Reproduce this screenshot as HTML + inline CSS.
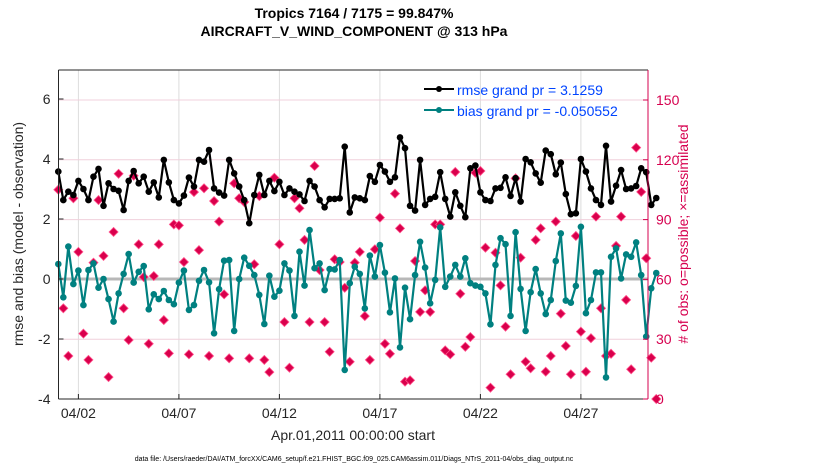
<!DOCTYPE html>
<html><head><meta charset="utf-8">
<style>
html,body{margin:0;padding:0;background:#fff;}
svg{display:block;font-family:"Liberation Sans",Arial,sans-serif;}
</style></head>
<body>
<svg id="chart" width="830" height="470" viewBox="0 0 830 470">
  <rect x="0" y="0" width="830" height="470" fill="#fff"/>
  <text x="354" y="18" text-anchor="middle" font-size="14" font-weight="bold">Tropics 7164 / 7175 = 99.847%</text>
  <text x="354" y="36" text-anchor="middle" font-size="14" font-weight="bold">AIRCRAFT_V_WIND_COMPONENT @ 313 hPa</text>
  <g id="grid"></g>
  <g id="marks"></g>
  <g id="axes"></g>
  <text transform="translate(23,234) rotate(-90)" text-anchor="middle" font-size="14" fill="#262626">rmse and bias (model - observation)</text>
  <text transform="translate(688,234) rotate(-90)" text-anchor="middle" font-size="14" fill="#d6004f"># of obs: o=possible; ×=assimilated</text>
  <text x="353" y="440" text-anchor="middle" font-size="14" fill="#262626">Apr.01,2011 00:00:00 start</text>
  <text x="354" y="461" text-anchor="middle" font-size="7" fill="#000">data file: /Users/raeder/DAI/ATM_forcXX/CAM6_setup/f.e21.FHIST_BGC.f09_025.CAM6assim.011/Diags_NTrS_2011-04/obs_diag_output.nc</text>
  <g>
    <line x1="424" y1="89" x2="454" y2="89" stroke="#000" stroke-width="2"/>
    <circle cx="439" cy="89" r="3" fill="#000"/>
    <text x="457" y="95" font-size="14" fill="#0044ff">rmse grand pr = 3.1259</text>
    <line x1="424" y1="110" x2="454" y2="110" stroke="#008080" stroke-width="2"/>
    <circle cx="439" cy="110" r="3" fill="#008080"/>
    <text x="457" y="116" font-size="14" fill="#0044ff">bias grand pr = -0.050552</text>
  </g>
</svg>
<script>
const rmse = [3.58,2.63,2.91,2.8,3.27,3.0,2.63,3.41,3.67,2.44,3.19,3.0,2.94,2.3,3.27,3.6,3.19,3.41,2.91,3.22,2.72,3.97,3.22,2.63,2.52,2.78,3.38,3.08,3.97,3.91,
4.3,3.02,2.88,2.78,3.97,3.52,3.08,2.63,1.86,2.8,3.47,2.8,3.27,2.93,3.24,2.8,3.02,2.91,2.82,2.6,3.27,3.08,2.63,2.39,2.67,2.67,2.69,4.41,2.22,
2.72,2.69,2.63,3.43,3.24,3.8,3.58,3.24,3.39,4.72,4.36,2.44,2.28,3.97,2.47,2.67,2.74,3.56,2.67,2.08,2.89,2.44,2.06,3.69,3.78,2.89,2.63,2.6,3.02,
3.04,3.39,2.77,3.36,2.58,4.0,3.89,3.52,3.21,4.28,4.16,3.49,3.88,2.83,2.16,2.19,4.0,3.58,3.02,2.63,2.47,4.44,2.58,3.11,3.63,3.0,3.02,3.1,3.69,3.56,2.47,2.7];
const bias = [0.5,-0.61,1.08,-0.17,0.28,-0.87,0.3,0.52,-0.29,0,-0.67,-1.42,-0.48,0.17,0.83,-0.12,0.24,0.43,-1.01,-0.51,-0.67,-0.4,-0.7,-0.84,-0.12,0.28,-1.03,-0.87,-0.06,0.3,
-0.11,-1.81,-0.34,0.61,0.63,-1.73,0,0.71,0.44,0.13,-0.53,-1.5,0.11,-0.59,-0.39,0.52,0.28,-1.23,0.91,-0.22,1.63,0.36,0.52,-0.37,0.33,0.32,0.63,-3.03,-0.14,
0.41,0.17,-0.98,0.78,0.08,1.13,0.21,-1.11,0.02,-2.28,-0.29,-1.34,0.13,1.24,0.38,-0.81,-0.03,1.72,-0.26,0.08,0.47,0.08,0.69,-0.14,-0.22,-0.26,-0.48,-1.51,0.47,
1.36,1.16,-1.23,1.56,-0.33,-1.73,-0.44,0.33,-0.48,-1.17,-0.7,0.6,1.52,-0.72,-0.79,-0.23,1.74,-1.14,-0.7,0.22,0.22,-3.28,0.74,1.02,0.02,0.82,0.74,1.22,0.13,-1.92,-0.31,0.2];
const nobs = [105,45.5,21.6,100.7,73.8,32.8,19.6,68.4,99.8,71.8,11,83.8,113,45.5,29.6,112,77.6,61.2,27.7,61.7,77.6,39.6,22.9,87.6,87.1,68.7,22.4,103.8,74.7,105.7,
21.6,99.3,89,52.5,20.4,108.2,100.7,98.8,20.4,67.6,101.8,19.6,13.5,111,77.6,38.6,15.7,100.7,95.7,79.8,38.6,116.9,64.7,38.6,23.7,70.1,68.7,55.8,18.7,
68.4,73.8,41.6,19.6,75.1,91,27.7,22.7,103,85.6,8.7,9.4,69.2,43.7,54.5,43.7,87.6,87.6,24.4,22.4,113.9,52.8,26.2,31.1,113.5,114.4,75.9,5.7,73.4,
57,36.3,12.4,110.7,70.9,18.7,15.4,79.8,85.6,13.7,21.6,89,42.8,26.6,12.4,81.8,33.8,13.7,30.5,91.5,45.5,21.6,22.7,76.8,91.5,49.7,14.9,126.1,103.9,70.6,20.7,0];
const leftTicks = [-4,-2,0,2,4,6];
const rightTicks = [0,30,60,90,120,150];
const dayTicks = [1,6,11,16,21,26];
const dayLabels = ["04/02","04/07","04/12","04/17","04/22","04/27"];
const stepDays = 0.25;

const PX0=58.5, PX1=648, PY0=70, PY1=399;
const xS = d => 58.3 + d*20.1;
const yL = v => 279 - v*30;
const yR = n => 399 - n*(299/150);
const NS="http://www.w3.org/2000/svg";
function mk(parent, tag, attrs){const e=document.createElementNS(NS,tag);for(const k in attrs)e.setAttribute(k,attrs[k]);parent.appendChild(e);return e;}
const grid=document.getElementById('grid'), marks=document.getElementById('marks'), axes=document.getElementById('axes');

dayTicks.forEach(d=>{const l=mk(grid,'line',{x1:xS(d),x2:xS(d),y1:PY0,y2:PY1,stroke:'#dcdcdc','stroke-width':1});

});
rightTicks.forEach(n=>{if(n===0||n===60)return;const l=mk(grid,'line',{x1:PX0,x2:PX1,y1:yR(n),y2:yR(n),stroke:'#f0d0dc','stroke-width':1});

});
const z=mk(grid,'line',{x1:PX0,x2:PX1,y1:yL(0),y2:yL(0),stroke:'#b8b8b8','stroke-width':3});



// obs diamonds
nobs.forEach((n,i)=>{const x=xS(i*stepDays),y=yR(n);
const p=mk(marks,'path',{d:`M${x} ${y-4.5}L${x+4.5} ${y}L${x} ${y+4.5}L${x-4.5} ${y}Z`,fill:'#d9004c',stroke:'#ff4f8a','stroke-width':0.8});

});

function series(vals,color,name){
  const pts=vals.map((v,i)=>xS(i*stepDays).toFixed(1)+','+yL(v).toFixed(1)).join(' ');
  const pl=mk(marks,'polyline',{points:pts,fill:'none',stroke:color,'stroke-width':2.2,'stroke-linejoin':'round'});
  
  
  vals.forEach((v,i)=>{const c=mk(marks,'circle',{cx:xS(i*stepDays),cy:yL(v),r:3.3,fill:color});
  
  });
}
series(bias,'#008080','bias');
series(rmse,'#000000','rmse');

// axes frame
const la=mk(axes,'line',{x1:PX0,x2:PX0,y1:PY0,y2:PY1,stroke:'#262626','stroke-width':1});


const ba=mk(axes,'line',{x1:PX0,x2:PX1,y1:PY1,y2:PY1,stroke:'#262626','stroke-width':1});


const ta=mk(axes,'line',{x1:PX0,x2:PX1,y1:PY0,y2:PY0,stroke:'#262626','stroke-width':1});


const ra=mk(axes,'line',{x1:PX1,x2:PX1,y1:PY0,y2:PY1,stroke:'#d6004f','stroke-width':1});



leftTicks.forEach(v=>{const y=yL(v);
mk(axes,'line',{x1:PX0,x2:PX0+5,y1:y,y2:y,stroke:'#262626'});
const t=mk(axes,'text',{x:PX0-8,y:y+5,'text-anchor':'end','font-size':14,fill:'#262626'});t.textContent=v;

});
rightTicks.forEach(n=>{const y=yR(n);
mk(axes,'line',{x1:PX1-5,x2:PX1,y1:y,y2:y,stroke:'#d6004f'});
const t=mk(axes,'text',{x:PX1+8,y:y+5,'font-size':14,fill:'#d6004f'});t.textContent=n;

});
dayTicks.forEach((d,i)=>{const x=xS(d);
mk(axes,'line',{x1:x,x2:x,y1:PY1-5,y2:PY1,stroke:'#262626'});
const t=mk(axes,'text',{x:x,y:PY1+19,'text-anchor':'middle','font-size':14,fill:'#262626'});t.textContent=dayLabels[i];

});
</script>
</body></html>
